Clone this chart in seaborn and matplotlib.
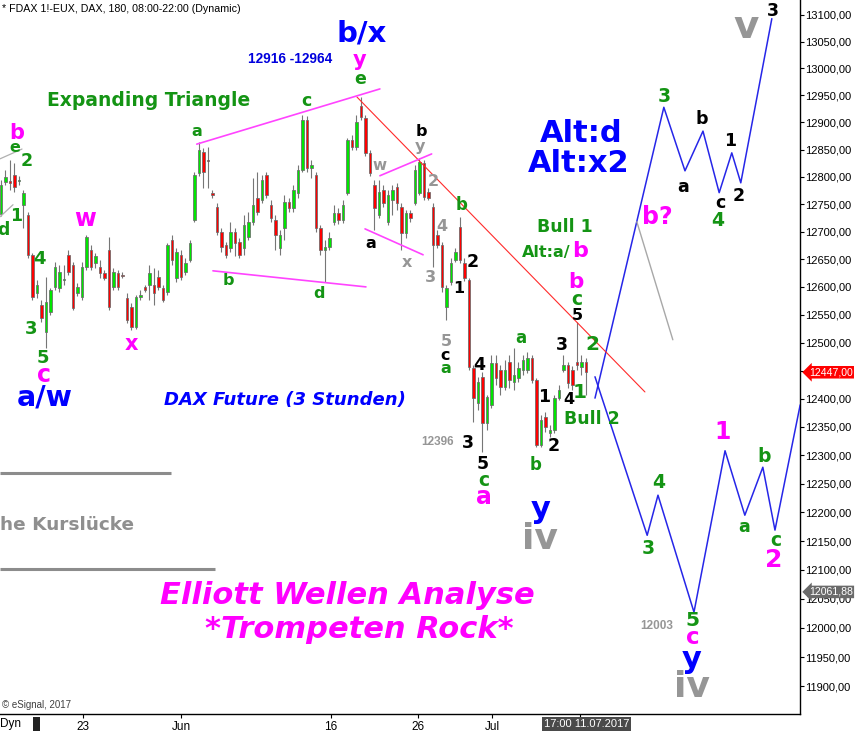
import numpy as np
import pandas as pd
import matplotlib
matplotlib.use("Agg")
import matplotlib.pyplot as plt
import matplotlib.ticker as mticker
import matplotlib.transforms as mtrans
from matplotlib.patches import Rectangle
import seaborn as sns

# === 1. Data: 3h candles FDAX (log price axis) ===
opens = [12732, 12791, 12792, 12803, 12792, 12749, 12730, 12658, 12589, 12568,
         12519, 12555, 12600, 12598, 12613, 12658, 12640, 12589, 12582, 12636,
         12667, 12643, 12636, 12625, 12667, 12600, 12625, 12622, 12580, 12564,
         12528, 12582, 12600, 12604, 12604, 12618, 12598, 12591, 12685, 12616,
         12658, 12627, 12649, 12721, 12807, 12846, 12831, 12771, 12745, 12699,
         12676, 12670, 12699, 12681, 12670, 12690, 12718, 12761, 12758, 12803,
         12749, 12721, 12670, 12707, 12754, 12743, 12771, 12812, 12905, 12816,
         12803, 12707, 12667, 12672, 12718, 12734, 12721, 12771, 12868, 12855,
         12930, 12908, 12844, 12785, 12730, 12776, 12718, 12758, 12781, 12745,
         12697, 12734, 12752, 12771, 12825, 12772, 12745, 12694, 12676, 12564,
         12609, 12649, 12708, 12643, 12613, 12455, 12392, 12439, 12357, 12389,
         12464, 12451, 12421, 12465, 12430, 12437, 12451, 12451, 12472, 12433,
         12318, 12367, 12339, 12345, 12401, 12451, 12460, 12451, 12465, 12456,
         12465]
closes = [12785, 12800, 12789, 12781, 12794, 12771, 12658, 12582, 12604, 12544,
          12573, 12595, 12636, 12627, 12614, 12627, 12562, 12600, 12636, 12690,
          12636, 12656, 12625, 12616, 12564, 12627, 12600, 12620, 12541, 12528,
          12582, 12586, 12595, 12625, 12589, 12600, 12577, 12676, 12649, 12663,
          12618, 12643, 12680, 12803, 12849, 12809, 12829, 12767, 12699, 12672,
          12658, 12699, 12680, 12658, 12712, 12718, 12749, 12736, 12794, 12767,
          12725, 12694, 12694, 12754, 12743, 12776, 12812, 12905, 12816, 12822,
          12707, 12667, 12672, 12689, 12734, 12721, 12749, 12868, 12855, 12901,
          12910, 12844, 12807, 12743, 12772, 12752, 12767, 12776, 12752, 12697,
          12734, 12725, 12812, 12827, 12763, 12761, 12676, 12676, 12600, 12598,
          12643, 12663, 12649, 12616, 12456, 12401, 12430, 12357, 12403, 12464,
          12437, 12421, 12451, 12433, 12442, 12455, 12469, 12472, 12433, 12318,
          12362, 12350, 12345, 12401, 12416, 12460, 12428, 12424, 12460, 12465,
          12447]
highs = [12794, 12812, 12831, 12825, 12802, 12776, 12736, 12661, 12613, 12577,
         12618, 12598, 12645, 12640, 12640, 12667, 12645, 12607, 12645, 12694,
         12676, 12661, 12649, 12631, 12690, 12634, 12631, 12627, 12589, 12571,
         12586, 12595, 12604, 12640, 12634, 12631, 12604, 12680, 12694, 12670,
         12667, 12652, 12685, 12809, 12864, 12853, 12855, 12776, 12752, 12707,
         12681, 12718, 12707, 12689, 12730, 12736, 12798, 12809, 12803, 12809,
         12758, 12730, 12703, 12767, 12761, 12785, 12822, 12914, 12912, 12831,
         12809, 12712, 12685, 12699, 12749, 12743, 12758, 12871, 12877, 12914,
         12947, 12914, 12849, 12794, 12794, 12785, 12776, 12785, 12789, 12752,
         12740, 12740, 12822, 12835, 12831, 12780, 12752, 12703, 12681, 12604,
         12652, 12670, 12727, 12652, 12616, 12460, 12438, 12447, 12407, 12478,
         12478, 12460, 12469, 12478, 12490, 12465, 12478, 12483, 12478, 12437,
         12371, 12376, 12353, 12407, 12424, 12478, 12465, 12458, 12536, 12478,
         12472]
lows = [12729, 12785, 12776, 12772, 12785, 12707, 12652, 12577, 12580, 12537,
        12490, 12550, 12595, 12591, 12604, 12622, 12559, 12584, 12577, 12631,
        12631, 12634, 12616, 12613, 12559, 12595, 12595, 12616, 12535, 12523,
        12524, 12577, 12591, 12577, 12568, 12595, 12573, 12586, 12640, 12609,
        12613, 12622, 12645, 12718, 12802, 12780, 12780, 12762, 12694, 12663,
        12652, 12663, 12656, 12652, 12658, 12685, 12712, 12730, 12752, 12761,
        12718, 12667, 12658, 12685, 12736, 12736, 12761, 12809, 12809, 12798,
        12699, 12658, 12609, 12667, 12712, 12714, 12716, 12767, 12849, 12849,
        12905, 12838, 12802, 12703, 12725, 12745, 12712, 12730, 12740, 12667,
        12689, 12718, 12749, 12767, 12758, 12758, 12636, 12670, 12591, 12541,
        12604, 12645, 12643, 12611, 12451, 12359, 12380, 12305, 12345, 12384,
        12424, 12407, 12416, 12419, 12416, 12430, 12442, 12446, 12428, 12315,
        12315, 12341, 12332, 12339, 12398, 12447, 12419, 12416, 12451, 12442,
        12407]

# date ticks (bar index units)
tick_pos = [18.2, 40.1, 73.3, 92.7, 109.1, 128.7]
tick_labels = ["23", "Jun", "16", "26", "Jul", ""]

# forecast paths (blue)
bull_x = [132.0, 147.3, 152.0, 156.0, 159.6, 162.4, 164.4, 171.3]
bull_y = [12401, 12928, 12811, 12884, 12771, 12844, 12789, 13093]
bear_x = [132.0, 143.6, 146.0, 154.0, 160.9, 165.3, 169.3, 172.0, 177.6]
bear_y = [12439, 12160, 12230, 12027, 12308, 12195, 12279, 12169, 12389]

# helper lines
grey_x, grey_y = [141.3, 149.3], [12718, 12505]
trend_x, trend_y = [79.1, 143.1], [12947, 12412]
tri_up_x, tri_up_y = [43.5, 84.2], [12860, 12962]
tri_lo_x, tri_lo_y = [47.1, 81.1], [12629, 12600]
small_up_x, small_up_y = [84.2, 95.7], [12802, 12842]
small_lo_x, small_lo_y = [80.9, 93.8], [12705, 12658]
left1_x, left1_y = [-0.22, 4.67], [12833, 12851]
left2_x, left2_y = [-0.22, 2.67], [12727, 12749]
gap_levels = [12269, 12101]
gap_ends = [37.8, 47.6]

last_price = 12447.00
marker_price = 12061.88

# === 2. Style ===
sns.set_theme(style="white")
plt.rcParams["font.family"] = ["Liberation Sans", "DejaVu Sans"]
BIG = ["DejaVu Sans"]
SMALL = ["Liberation Sans", "DejaVu Sans"]

W, H = 856, 733
fig = plt.figure(figsize=(W / 100, H / 100), dpi=100)
fig.patch.set_facecolor("white")
ax = fig.add_axes([0, 19 / H, 800 / W, 714 / H])
ax.set_facecolor("white")

# === 3. Candles ===
x = np.arange(len(opens))
o, c, h, l = (np.array(v, dtype=float) for v in (opens, closes, highs, lows))
up = c >= o
ax.vlines(x, l, h, color="#767676", lw=0.8, zorder=2)
body_bottom = np.minimum(o, c)
body_height = np.maximum(np.abs(c - o), 1.0)
ax.bar(x, body_height, bottom=body_bottom, width=0.64,
       color=np.where(up, "#00E600", "#FF0000"),
       edgecolor="#6a6a6a", linewidth=0.55, zorder=3)

# === 4. Lines ===
fc = pd.concat([
    pd.DataFrame({"i": bull_x, "p": bull_y, "path": "bull"}),
    pd.DataFrame({"i": bear_x, "p": bear_y, "path": "bear"}),
])
sns.lineplot(data=fc, x="i", y="p", units="path", estimator=None, sort=False,
             color="#2626E8", lw=1.1, ax=ax, zorder=4)
ax.plot(grey_x, grey_y, color="#a8a8a8", lw=1.0, zorder=4)
ax.plot(trend_x, trend_y, color="#FF2a2a", lw=0.8, zorder=4)
for xs, ys in [(tri_up_x, tri_up_y), (tri_lo_x, tri_lo_y),
               (small_up_x, small_up_y), (small_lo_x, small_lo_y)]:
    ax.plot(xs, ys, color="#FF44FF", lw=1.2, zorder=4)
for xs, ys in [(left1_x, left1_y), (left2_x, left2_y)]:
    ax.plot(xs, ys, color="#b0b0b0", lw=0.9, zorder=4)
for lev, end in zip(gap_levels, gap_ends):
    ax.hlines(lev, -0.22, end, color="#8c8c8c", lw=2.2, zorder=2)

# === 5. Axes ===
ax.set_yscale("log")
ax.set_xlim(-0.22, 177.56)
ax.set_ylim(11853, 13128)
ax.set_xlabel("")
ax.set_ylabel("")
ax.yaxis.tick_right()
ax.yaxis.set_major_locator(mticker.FixedLocator(np.arange(11900, 13101, 50)))
ax.yaxis.set_minor_locator(mticker.NullLocator())
ax.yaxis.set_major_formatter(mticker.FuncFormatter(lambda v, _: f"{v:.2f}".replace(".", ",")))
ax.yaxis.set_minor_formatter(mticker.NullFormatter())
ax.set_xticks(tick_pos)
ax.set_xticklabels(tick_labels)
ax.tick_params(axis="y", which="major", direction="out", length=3, width=0.8,
               labelsize=8, pad=1, colors="black", right=True, left=False)
ax.tick_params(axis="x", direction="out", length=3, width=0.8,
               labelsize=8.5, pad=2, colors="black", bottom=True)
for side in ["left", "top"]:
    ax.spines[side].set_visible(False)
for side in ["right", "bottom"]:
    ax.spines[side].set_visible(True)
    ax.spines[side].set_color("black")
    ax.spines[side].set_linewidth(1.0)
ax.grid(False)

# price markers on the right axis
trans = mtrans.blended_transform_factory(ax.transAxes, ax.transData)
ax.text(1.0112, last_price, f"{last_price:.2f}".replace(".", ","), transform=trans,
        ha="left", va="center", fontsize=7.6, color="white", zorder=10, clip_on=False,
        bbox=dict(boxstyle="larrow,pad=0.12", fc="#FF0000", ec="none"))
ax.text(1.0112, marker_price, f"{marker_price:.2f}".replace(".", ","), transform=trans,
        ha="left", va="center", fontsize=7.6, color="white", zorder=10, clip_on=False,
        bbox=dict(boxstyle="larrow,pad=0.12", fc="#6a6a6a", ec="none"))
tb = mtrans.blended_transform_factory(ax.transData, ax.transAxes)
ax.text(130.1, -0.014, "17:00 11.07.2017", transform=tb, ha="center", va="center",
        fontsize=8, color="white", zorder=10, clip_on=False,
        bbox=dict(boxstyle="square,pad=0.2", fc="#4a4a4a", ec="none"))

# === 6. Annotations (pixel layout) ===
GREEN, MAG, BLUE, GREY, BLK = "#149414", "#FF00FF", "#0000FF", "#969696", "black"


def label(px, py, s, color, size, style="normal", ha="center", weight="bold", family=BIG):
    fig.text(px / W, 1 - py / H, s, color=color, fontsize=size, fontweight=weight,
             fontstyle=style, ha=ha, va="center", family=family, zorder=6)


fig.text(2 / W, 1 - 9 / H, "* FDAX 1!-EUX, DAX, 180, 08:00-22:00 (Dynamic)",
         fontsize=7.7, color="black", ha="left", va="center")
label(2, 705, "\u00a9 eSignal, 2017", "#404040", 7, ha="left", weight="normal", family=SMALL)
label(0, 724, "Dyn", "black", 8.5, ha="left", weight="normal", family=SMALL)
fig.patches.append(Rectangle((33 / W, 1 - 731 / H), 7 / W, 14 / H,
                             transform=fig.transFigure, fc="#222222", ec="none"))

labels = [
    (362, 34, "b/x", BLUE, 21), (360, 60, "y", MAG, 15), (360, 79, "e", GREEN, 12.5),
    (306, 101, "c", GREEN, 12.5), (197, 131, "a", GREEN, 11.5), (17, 133, "b", MAG, 15),
    (15, 147, "e", GREEN, 11.5), (27, 161, "2", GREEN, 12.5), (16, 216, "1", GREEN, 12.5),
    (3, 230, "d", GREEN, 12.5), (85, 219, "w", MAG, 17), (39, 259, "4", GREEN, 13),
    (31, 329, "3", GREEN, 13), (43, 358, "5", GREEN, 13), (44, 375, "c", MAG, 17),
    (45, 397, "a/w", BLUE, 20.5), (131, 344, "x", MAG, 15), (228, 280, "b", GREEN, 11.5),
    (319, 294, "d", GREEN, 11.5), (421, 131, "b", BLK, 11.5), (420, 146, "y", GREY, 11.5),
    (380, 166, "w", GREY, 11), (371, 243, "a", BLK, 11.5), (433, 181, "2", GREY, 11.5),
    (442, 226, "4", GREY, 11.5), (407, 262, "x", GREY, 11.5), (430, 278, "3", GREY, 11.5),
    (462, 205, "b", GREEN, 12), (473, 262, "2", BLK, 12.5), (459, 289, "1", BLK, 11.5),
    (446, 341, "5", GREY, 11.5), (445, 355, "c", BLK, 11.5), (446, 368, "a", GREEN, 11.5),
    (479, 365, "4", BLK, 12.5), (468, 443, "3", BLK, 12.5), (483, 464, "5", BLK, 12.5),
    (484, 480, "c", GREEN, 13.5), (484, 497, "a", MAG, 17), (521, 338, "a", GREEN, 12),
    (544, 397, "1", BLK, 12.5), (554, 446, "2", BLK, 12.5), (536, 465, "b", GREEN, 12),
    (562, 345, "3", BLK, 12.5), (577, 315, "5", BLK, 11.5), (577, 299, "c", GREEN, 13.5),
    (576, 282, "b", MAG, 15.5), (592, 345, "2", GREEN, 14.5), (569, 399, "4", BLK, 11.5),
    (580, 392, "1", GREEN, 14.5), (592, 419, "Bull 2", GREEN, 12.5),
    (565, 227, "Bull 1", GREEN, 12.5), (581, 133, "Alt:d", BLUE, 22),
    (579, 163, "Alt:x2", BLUE, 22), (657, 217, "b?", MAG, 17), (664, 97, "3", GREEN, 13.5),
    (683, 187, "a", BLK, 12.5), (702, 119, "b", BLK, 12.5), (720, 203, "c", BLK, 12.5),
    (718, 221, "4", GREEN, 13.5), (730, 141, "1", BLK, 12.5), (739, 196, "2", BLK, 12.5),
    (773, 11, "3", BLK, 12.5), (746, 27, "v", GREY, 28), (659, 483, "4", GREEN, 13.5),
    (648, 549, "3", GREEN, 13.5), (692, 620, "5", GREEN, 14.5), (693, 638, "c", MAG, 16.5),
    (692, 659, "y", BLUE, 22), (692, 687, "iv", GREY, 26), (541, 510, "y", BLUE, 22),
    (540, 539, "iv", GREY, 26), (723, 432, "1", MAG, 17), (764, 457, "b", GREEN, 13.5),
    (744, 527, "a", GREEN, 12.5), (776, 541, "c", GREEN, 13.5), (774, 560, "2", MAG, 18),
]
for px, py, s, col, size in labels:
    label(px, py, s, col, size)

label(290, 59, "12916 -12964", "#0000DD", 9.8, family=SMALL)
label(438, 442, "12396", GREY, 8.5, family=SMALL)
label(657, 626, "12003", GREY, 8.5, family=SMALL)
label(571, 253, "Alt:a/", GREEN, 11.5, ha="right")
label(572, 251, "b", MAG, 16, ha="left")
label(149, 100, "Expanding Triangle", GREEN, 13.5)
label(285, 400, "DAX Future (3 Stunden)", BLUE, 13, style="italic")
label(347, 595, "Elliott Wellen Analyse", MAG, 22, style="italic")
label(359, 630, "*Trompeten Rock*", MAG, 22, style="italic")
label(0, 525, "he Kursl\u00fccke", "#8f8f8f", 13.3, ha="left")

fig.savefig("out.png", dpi=100)
